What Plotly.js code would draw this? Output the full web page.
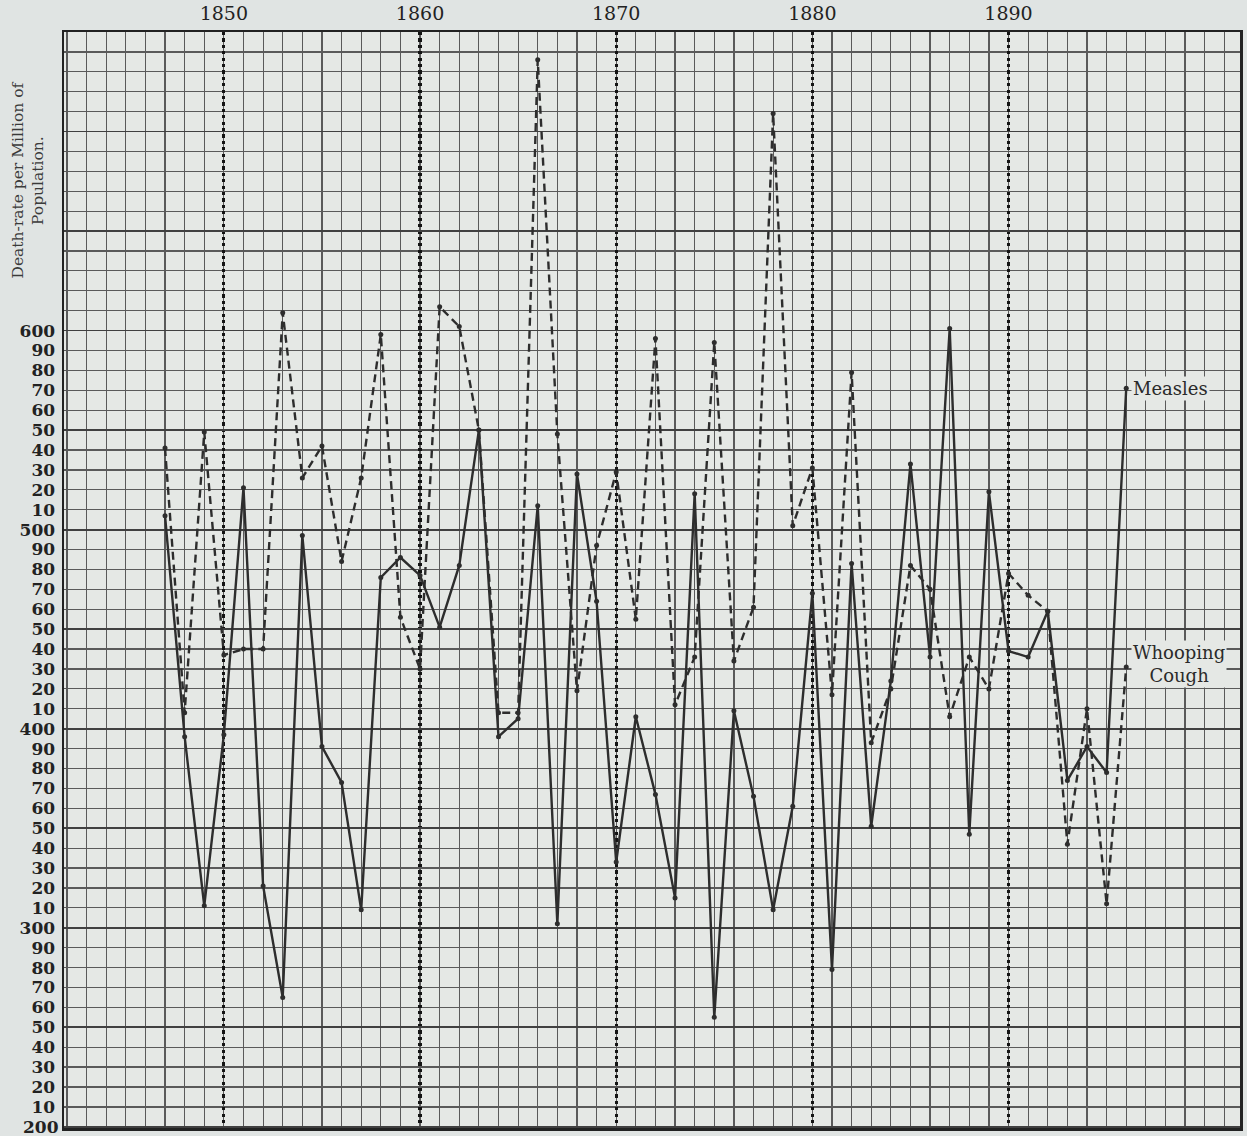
<!DOCTYPE html>
<html>
<head>
<meta charset="utf-8">
<script src="https://cdn.plot.ly/plotly-3.0.1.min.js"></script>
<style>
  html, body { margin: 0; padding: 0; background: #e0e4e3; }
  #chart { width: 1247px; height: 1136px; }
</style>
</head>
<body>
<div id="chart"></div>
<script>
// ---- data ----
const years = [1847,1848,1849,1850,1851,1852,1853,1854,1855,1856,
               1857,1858,1859,1860,1861,1862,1863,1864,1865,1866,
               1867,1868,1869,1870,1871,1872,1873,1874,1875,1876,
               1877,1878,1879,1880,1881,1882,1883,1884,1885,1886,
               1887,1888,1889,1890,1891,1892,1893,1894,1895,1896];

// Measles (solid line), deaths per million
const measles = [507,396,311,397,521,321,265,497,391,373,
                 309,476,486,477,451,482,550,396,405,512,
                 302,528,464,333,406,367,315,518,255,409,
                 366,309,361,468,279,483,351,424,533,436,
                 601,347,519,439,436,459,374,391,378,571];

// Whooping cough (dashed line), deaths per million
const whooping = [541,408,549,437,440,440,609,526,542,484,
                  526,598,456,430,612,602,550,408,408,736,
                  548,419,492,529,455,596,412,436,594,434,
                  461,709,502,531,417,579,393,420,482,470,
                  406,436,420,478,467,459,342,410,312,431];

const decadeYears  = [1850, 1860, 1870, 1880, 1890];
const decadeLabels = ['1850', '1860', '1870', '1880', '1890'];

const yTickVals = [200,210,220,230,240,250,260,270,280,290,
                   300,310,320,330,340,350,360,370,380,390,
                   400,410,420,430,440,450,460,470,480,490,
                   500,510,520,530,540,550,560,570,580,590,600];
const yTickText = ['200','10','20','30','40','50','60','70','80','90',
                   '300','10','20','30','40','50','60','70','80','90',
                   '400','10','20','30','40','50','60','70','80','90',
                   '500','10','20','30','40','50','60','70','80','90','600'];

const seriesNames = ['Measles', 'Whooping<br>Cough'];
const yTitle = 'Death-rate per Million of<br>Population.';

// ---- styling ----
const ink = '#2d2d2d';
const gridInk = '#5a5a5a';
const serif = 'DejaVu Serif, Liberation Serif, serif';
const yTickFont = { family: serif, size: 17, color: '#222', weight: 'bold' };
const xRange = [1841.85, 1901.8];
const yRange = [199.4, 750];

const traces = [
  {
    x: years, y: measles, type: 'scatter', mode: 'lines+markers',
    name: 'Measles', xaxis: 'x', yaxis: 'y',
    line: { color: ink, width: 2.4 },
    marker: { color: ink, size: 5 },
    hoverinfo: 'skip'
  },
  {
    x: years, y: whooping, type: 'scatter', mode: 'lines+markers',
    name: 'Whooping Cough', xaxis: 'x', yaxis: 'y2',
    line: { color: ink, width: 2.4, dash: '8px,5px' },
    marker: { color: ink, size: 5 },
    hoverinfo: 'skip'
  }
];

// the lowest tick label sits on the frame and is dropped by the axis, so it is placed as an annotation
const axisLabels = [
  {
    text: yTickText[0], xref: 'paper', yref: 'y',
    x: 0, y: yTickVals[0], xanchor: 'right', yanchor: 'middle', xshift: -3,
    showarrow: false, font: yTickFont
  }
];

const layout = {
  width: 1247, height: 1136,
  margin: { l: 64, r: 7, t: 32, b: 8, autoexpand: false },
  paper_bgcolor: '#e0e4e3',
  plot_bgcolor: '#e5e8e5',
  showlegend: false,
  font: { family: serif, color: ink },
  xaxis: {
    range: xRange, side: 'top',
    tickmode: 'array', tickvals: decadeYears, ticktext: decadeLabels,
    tickfont: { family: serif, size: 19, color: '#222' },
    ticks: '', ticklabelstandoff: 2,
    showgrid: true, gridcolor: '#141414', gridwidth: 3.2, griddash: 'dot',
    minor: { dtick: 1, tick0: 1842, showgrid: true, gridcolor: gridInk, gridwidth: 1.2,
             griddash: 'solid', ticks: '' },
    showline: true, mirror: true, linecolor: '#222', linewidth: 2.5,
    zeroline: false, fixedrange: true
  },
  yaxis: {
    range: yRange,
    tickmode: 'array', tickvals: yTickVals.slice(1), ticktext: yTickText.slice(1),
    tickfont: yTickFont,
    ticks: '', ticklabelstandoff: 3,
    showgrid: false,
    minor: { dtick: 10, tick0: 200, showgrid: true, gridcolor: gridInk, gridwidth: 1.2,
             griddash: 'solid', ticks: '' },
    showline: true, mirror: true, linecolor: '#222', linewidth: 2.5,
    zeroline: false, fixedrange: true
  },
  yaxis2: {
    range: yRange, overlaying: 'y', anchor: 'x', side: 'left',
    tickmode: 'linear', tick0: 200, dtick: 50,
    showticklabels: false, ticks: '',
    showgrid: true, gridcolor: '#404040', gridwidth: 1.8,
    showline: false, zeroline: false, fixedrange: true
  },
  annotations: axisLabels.concat([
    {
      text: yTitle, xref: 'paper', yref: 'paper',
      x: -0.031, y: 0.865, xanchor: 'center', yanchor: 'middle',
      textangle: -90, showarrow: false, align: 'center',
      font: { family: serif, size: 15.5, color: '#3a3a3a' }
    },
    {
      text: seriesNames[0], xref: 'x', yref: 'y',
      x: years[years.length - 1], y: measles[measles.length - 1],
      xanchor: 'left', yanchor: 'middle', xshift: 5, showarrow: false,
      bgcolor: '#e5e8e5', borderpad: 1,
      font: { family: serif, size: 18, color: '#2a2a2a' }
    },
    {
      text: seriesNames[1], xref: 'x', yref: 'y',
      x: years[years.length - 1], y: whooping[whooping.length - 1],
      xanchor: 'left', yanchor: 'top', xshift: 5, yshift: 27, showarrow: false,
      align: 'center', bgcolor: '#e5e8e5', borderpad: 1,
      font: { family: serif, size: 18, color: '#2a2a2a' }
    }
  ])
};

Plotly.newPlot('chart', traces, layout, { staticPlot: true, displayModeBar: false });
</script>
</body>
</html>
